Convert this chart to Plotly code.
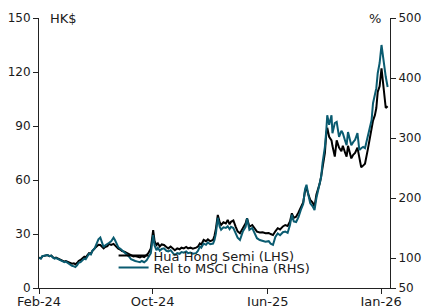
import plotly.graph_objects as go

dates = [
"2024-02-01","2024-02-05","2024-02-08","2024-02-14","2024-02-19","2024-02-23","2024-02-27","2024-03-01",
"2024-03-05","2024-03-08","2024-03-13","2024-03-18","2024-03-21","2024-03-26","2024-03-29","2024-04-03",
"2024-04-08","2024-04-11","2024-04-15","2024-04-18","2024-04-22","2024-04-25","2024-04-29","2024-05-03",
"2024-05-07","2024-05-10","2024-05-14","2024-05-17","2024-05-21","2024-05-24","2024-05-29","2024-06-03",
"2024-06-06","2024-06-10","2024-06-13","2024-06-17","2024-06-20","2024-06-25","2024-06-28","2024-07-03",
"2024-07-08","2024-07-11","2024-07-15","2024-07-18","2024-07-23","2024-07-26","2024-07-31","2024-08-05",
"2024-08-09","2024-08-14","2024-08-19","2024-08-23","2024-08-28","2024-09-02","2024-09-06","2024-09-11",
"2024-09-16","2024-09-20","2024-09-25","2024-09-30","2024-10-03","2024-10-07","2024-10-10","2024-10-14",
"2024-10-18","2024-10-23","2024-10-28","2024-11-01","2024-11-06","2024-11-11","2024-11-15","2024-11-20",
"2024-11-25","2024-11-29","2024-12-04","2024-12-09","2024-12-13","2024-12-18","2024-12-23","2024-12-30",
"2025-01-03","2025-01-07","2025-01-10","2025-01-15","2025-01-20","2025-01-24","2025-01-29","2025-02-04",
"2025-02-07","2025-02-10","2025-02-14","2025-02-18","2025-02-21","2025-02-26","2025-03-03","2025-03-07",
"2025-03-11","2025-03-14","2025-03-19","2025-03-24","2025-03-28","2025-04-02","2025-04-08","2025-04-14",
"2025-04-17","2025-04-22","2025-04-28","2025-05-02","2025-05-08","2025-05-14","2025-05-20","2025-05-26",
"2025-06-02","2025-06-06","2025-06-11","2025-06-16","2025-06-21","2025-06-26","2025-07-02","2025-07-07",
"2025-07-12","2025-07-17","2025-07-21","2025-07-25","2025-07-30","2025-08-04","2025-08-09","2025-08-14",
"2025-08-18","2025-08-21","2025-08-25","2025-08-29","2025-09-03","2025-09-07","2025-09-11","2025-09-14",
"2025-09-18","2025-09-21","2025-09-24","2025-09-29","2025-10-02","2025-10-04","2025-10-08","2025-10-13",
"2025-10-15","2025-10-20","2025-10-24","2025-10-29","2025-11-03","2025-11-06","2025-11-11","2025-11-14",
"2025-11-17","2025-11-21","2025-11-24","2025-11-28","2025-12-02","2025-12-07","2025-12-11","2025-12-15",
"2025-12-19","2025-12-23","2025-12-29","2026-01-02","2026-01-06","2026-01-09","2026-01-13","2026-01-16",
"2026-01-19","2026-01-23","2026-01-27","2026-01-29","2026-02-02","2026-02-05","2026-02-09",
]

hua_hong_hkd = [
16.8,16.5,17.6,17.9,18.3,17.7,18.0,17.2,
16.6,16.9,16.2,15.5,15.0,14.7,15.0,14.4,
13.8,13.5,13.7,13.2,14.0,15.0,15.6,16.3,
17.4,17.0,18.4,19.3,19.0,20.5,22.0,23.2,
24.0,23.9,22.8,22.0,22.8,23.3,24.5,23.9,
24.5,23.8,22.5,21.8,21.2,20.5,20.2,19.4,
18.8,18.0,17.5,17.8,17.3,17.0,17.6,17.2,
18.3,19.5,22.0,32.2,26.0,23.9,24.8,23.0,
24.2,23.9,22.8,22.0,23.0,21.8,21.0,22.0,
21.5,22.4,22.0,22.8,22.0,22.4,21.8,22.4,
23.0,24.8,24.2,26.7,26.0,27.0,26.0,26.7,
29.0,33.0,40.6,36.5,35.0,36.5,35.9,37.8,
35.4,36.8,37.5,34.0,31.5,30.4,33.2,36.0,
38.7,34.0,35.0,33.5,31.3,30.8,31.0,30.4,
30.6,30.0,29.4,31.5,33.2,32.5,34.2,35.0,
34.5,37.0,41.5,39.0,39.6,42.0,45.2,47.5,
54.0,55.4,52.0,48.9,47.5,45.2,52.0,54.4,
58.0,61.9,67.0,75.0,86.0,89.0,84.0,82.0,
79.0,73.0,82.0,78.0,76.0,79.0,75.0,73.0,
79.0,75.0,72.0,74.0,75.0,78.0,72.0,67.0,
68.0,69.0,77.0,83.0,89.0,93.0,96.0,100.0,
109.0,112.0,122.0,117.0,106.0,100.0,101.0,
]

rel_msci_china = [
100,99,103,104,105,103,104,101,
99,100,98,96,94,93,94,91,
89,87,86,85,88,92,93,96,
99,98,103,107,106,112,116,124,
131,134,127,118,121,123,125,128,
134,130,122,118,115,113,110,106,
103,98,96,95,94,93,95,93,
96,101,108,138,121,113,117,112,
115,116,112,111,113,108,105,108,
107,110,109,111,108,109,107,108,
112,119,117,124,122,126,123,124,
130,141,167,152,147,151,150,153,
148,152,150,141,134,130,144,152,
166,147,150,143,133,130,129,127,
128,124,122,135,141,138,143,144,
142,155,172,161,160,168,180,190,
215,222,205,191,186,180,200,210,
225,235,258,285,313,338,322,338,
308,325,327,302,312,308,295,288,
310,298,288,293,297,308,280,283,
285,283,302,318,330,358,372,383,
408,425,455,442,418,402,385,
]

x_tick_vals = ["2024-02-01", "2024-09-29", "2025-05-31", "2026-01-26"]
x_tick_text = ["Feb-24", "Oct-24", "Jun-25", "Jan-26"]
left_ticks = [0, 30, 60, 90, 120, 150]
right_ticks = [50, 100, 200, 300, 400, 500]

FONT = "DejaVu Sans"
TXT = "#1a1a1a"
TEAL = "#0a5b70"

fig = go.Figure()
fig.add_trace(go.Scatter(x=dates, y=hua_hong_hkd, mode="lines", name="Hua Hong Semi (LHS)",
                         line=dict(color="#000000", width=2), yaxis="y", legend="legend",
                         showlegend=True))
fig.add_trace(go.Scatter(x=dates, y=rel_msci_china, mode="lines", name="Rel to MSCI China (RHS)",
                         line=dict(color=TEAL, width=2), yaxis="y2", legend="legend2",
                         showlegend=True))

axis_common = dict(showgrid=False, zeroline=False, showline=True, linecolor="#222", linewidth=1,
                   ticks="outside", ticklen=5, tickcolor="#222", tickwidth=1, automargin=False)

fig.update_layout(
    width=424, height=306, autosize=False,
    margin=dict(l=39, r=34, t=18, b=18),
    paper_bgcolor="white", plot_bgcolor="white",
    showlegend=True,
    font=dict(family=FONT, size=12, color=TXT),
    xaxis=dict(type="date", range=["2024-02-01", "2026-02-14"], tickmode="array",
               tickvals=x_tick_vals, ticktext=x_tick_text, ticklabelstandoff=-4,
               tickfont=dict(family=FONT, size=13, color=TXT), **axis_common),
    yaxis=dict(range=[0, 150], tickmode="array", tickvals=left_ticks,
               tickfont=dict(family=FONT, size=12, color=TXT), **axis_common),
    yaxis2=dict(range=[50, 500], tickmode="array", tickvals=right_ticks, overlaying="y",
                side="right", tickfont=dict(family=FONT, size=12, color=TXT), **axis_common),
    legend=dict(x=0.2125, xanchor="left", y=0.12, yanchor="middle", bgcolor="rgba(0,0,0,0)",
                itemwidth=30, font=dict(family=FONT, size=13, color=TXT)),
    legend2=dict(x=0.2125, xanchor="left", y=0.076, yanchor="middle", bgcolor="rgba(0,0,0,0)",
                 itemwidth=30, font=dict(family=FONT, size=13, color=TXT)),
    annotations=[
        dict(text="HK$", xref="paper", yref="paper", x=0.025, y=1.0, xanchor="left",
             yanchor="middle", showarrow=False, font=dict(family=FONT, size=13, color=TXT)),
        dict(text="%", xref="paper", yref="paper", x=0.935, y=1.0, xanchor="left",
             yanchor="middle", showarrow=False, font=dict(family=FONT, size=13, color=TXT)),
    ],
)

fig.write_html("out.html", config={"displayModeBar": False},
               post_script="document.body.style.margin='0';")
